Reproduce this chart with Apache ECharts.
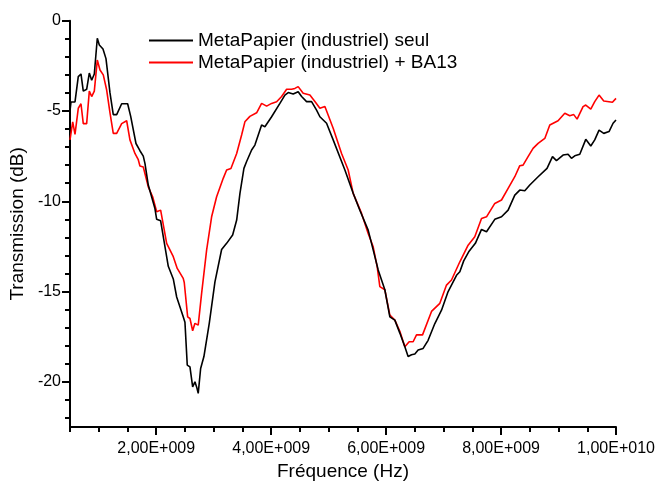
<!DOCTYPE html>
<html>
<head>
<meta charset="utf-8">
<script src="https://cdn.jsdelivr.net/npm/echarts@6/dist/echarts.min.js"></script>
<style>
html,body{margin:0;padding:0;background:#fff;}
#chart{width:657px;height:481px;}
</style>
</head>
<body>
<div id="chart"></div>
<script>
// Frequencies in GHz, transmission in dB
var seulFreqGHz = [0.5,0.517,0.587,0.644,0.691,0.731,0.79,0.836,0.877,0.923,0.975,1.01,1.074,1.126,1.196,1.253,1.312,1.399,1.503,1.556,1.648,1.717,1.775,1.804,1.862,1.978,2.008,2.077,2.21,2.297,2.356,2.47,2.5,2.54,2.587,2.634,2.674,2.703,2.731,2.773,2.83,2.923,3.022,3.138,3.225,3.33,3.4,3.457,3.526,3.573,3.66,3.717,3.834,3.891,4.008,4.152,4.239,4.297,4.383,4.47,4.53,4.616,4.703,4.79,4.848,4.964,5.079,5.283,5.427,5.543,5.688,5.717,5.834,5.862,5.978,6.065,6.152,6.239,6.326,6.383,6.442,6.5,6.557,6.644,6.731,6.848,6.964,7.079,7.225,7.283,7.35,7.437,7.553,7.66,7.747,7.891,8.008,8.123,8.239,8.326,8.413,8.5,8.645,8.8,8.895,8.964,9.079,9.166,9.225,9.283,9.37,9.474,9.561,9.63,9.705,9.787,9.879,9.949,10.0];
var seulDb = [-5.0,-4.5,-4.5,-3.1,-2.95,-3.9,-3.8,-2.9,-3.3,-2.95,-0.97,-1.35,-1.57,-2.1,-4.0,-5.2,-5.2,-4.6,-4.6,-5.3,-6.8,-7.2,-7.5,-7.9,-9.1,-10.4,-11.0,-11.08,-13.6,-14.3,-15.3,-16.4,-16.7,-19.07,-19.17,-20.28,-20.0,-20.28,-20.64,-19.26,-18.6,-16.76,-14.46,-12.67,-12.33,-11.87,-11.04,-9.56,-8.18,-7.8,-7.16,-6.89,-5.78,-5.87,-5.32,-4.58,-4.12,-3.98,-4.06,-3.93,-4.2,-4.48,-4.48,-4.95,-5.32,-5.68,-6.6,-8.27,-9.56,-10.5,-11.6,-11.96,-13.44,-13.8,-14.9,-16.4,-16.58,-17.3,-18.06,-18.6,-18.5,-18.46,-18.24,-18.15,-17.7,-16.77,-16.03,-15.0,-14.1,-13.9,-13.3,-12.8,-12.33,-11.56,-11.69,-11.0,-10.86,-10.49,-9.66,-9.38,-9.42,-9.1,-8.64,-8.18,-7.53,-7.75,-7.44,-7.4,-7.62,-7.48,-7.4,-6.57,-6.94,-6.6,-6.06,-6.24,-6.14,-5.68,-5.5];

var ba13FreqGHz = [0.5,0.547,0.587,0.644,0.691,0.731,0.79,0.836,0.877,0.923,0.975,1.022,1.079,1.138,1.196,1.253,1.312,1.399,1.486,1.543,1.63,1.688,1.717,1.775,1.862,1.938,2.008,2.077,2.182,2.297,2.366,2.47,2.488,2.547,2.587,2.634,2.674,2.731,2.79,2.877,2.964,3.051,3.166,3.225,3.3,3.4,3.486,3.543,3.63,3.747,3.834,3.921,4.008,4.095,4.182,4.269,4.356,4.413,4.47,4.557,4.674,4.761,4.848,4.935,5.079,5.225,5.34,5.427,5.573,5.688,5.775,5.845,5.891,5.978,6.065,6.152,6.239,6.326,6.401,6.47,6.529,6.634,6.79,6.935,7.051,7.138,7.283,7.427,7.543,7.66,7.747,7.891,8.008,8.123,8.239,8.326,8.383,8.47,8.557,8.645,8.761,8.848,8.992,9.109,9.196,9.265,9.323,9.427,9.474,9.561,9.63,9.705,9.787,9.938,10.0];
var ba13Db = [-6.6,-5.6,-6.3,-4.85,-4.6,-5.7,-5.7,-3.9,-4.2,-3.9,-2.18,-2.73,-3.0,-3.84,-5.1,-6.24,-6.24,-5.7,-5.54,-6.6,-7.35,-7.7,-8.05,-8.1,-9.2,-9.75,-10.58,-10.49,-12.33,-13.07,-13.72,-14.27,-14.5,-16.4,-16.49,-17.17,-16.76,-16.86,-15.1,-12.7,-10.86,-9.75,-8.73,-8.27,-8.18,-7.35,-6.33,-5.6,-5.3,-5.1,-4.58,-4.73,-4.58,-4.49,-4.2,-3.8,-3.8,-3.75,-3.65,-4.02,-4.12,-4.48,-4.85,-4.75,-5.96,-7.35,-8.27,-9.56,-10.67,-11.78,-12.52,-13.63,-14.73,-14.9,-16.3,-16.58,-17.2,-18.06,-17.78,-17.78,-17.4,-17.4,-16.1,-15.65,-14.64,-14.36,-13.35,-12.43,-11.96,-10.95,-10.86,-10.12,-9.93,-9.28,-8.64,-8.03,-8.0,-7.53,-7.07,-6.79,-6.52,-5.78,-5.54,-5.13,-5.26,-5.2,-5.45,-4.76,-4.67,-4.9,-4.48,-4.12,-4.45,-4.52,-4.3];

var seriesNames = ['MetaPapier (industriel) seul', 'MetaPapier (industriel) + BA13'];
var xMajorTicks = [2e9, 4e9, 6e9, 8e9, 1e10];
var xMinorTicks = [0.5e9,1e9,1.5e9,2.5e9,3e9,3.5e9,4.5e9,5e9,5.5e9,6.5e9,7e9,7.5e9,8.5e9,9e9,9.5e9];
var yMajorTicks = [-20, -15, -10, -5, 0];
var yMinorTicks = [-22,-21,-19,-18,-17,-16,-14,-13,-12,-11,-9,-8,-7,-6,-4,-3,-2,-1];

function pairs(f, v) {
  var out = [];
  for (var i = 0; i < f.length; i++) out.push([f[i] * 1e9, v[i]]);
  return out;
}
function sci(v) {
  var e = Math.floor(Math.log10(v) + 1e-9);
  var m = v / Math.pow(10, e);
  return m.toFixed(2).replace('.', ',') + 'E+' + String(e).padStart(3, '0');
}

var FONT = '"Liberation Sans", Arial, sans-serif';
var chart = echarts.init(document.getElementById('chart'), null, {renderer: 'canvas'});
var axisLineStyle = {color: '#000', width: 2};
var gridBox = {left: 70, right: 41, top: 20.7, bottom: 54, containLabel: false, outerBoundsMode: 'none'};

chart.setOption({
  animation: false,
  backgroundColor: '#fff',
  grid: [Object.assign({}, gridBox), Object.assign({}, gridBox)],
  legend: {
    orient: 'vertical',
    left: 149,
    top: 31,
    padding: 0,
    icon: 'rect',
    itemWidth: 44,
    itemHeight: 2,
    itemGap: 3,
    textStyle: {fontSize: 19, color: '#000', fontFamily: FONT},
    data: seriesNames
  },
  xAxis: [{
    type: 'value',
    gridIndex: 0,
    min: 0.5e9, max: 1e10,
    position: 'bottom',
    axisLine: {show: true, onZero: false, lineStyle: axisLineStyle},
    axisTick: {show: true, inside: false, length: 8, customValues: xMajorTicks, lineStyle: {color: '#000', width: 2}},
    axisLabel: {show: true, customValues: xMajorTicks, formatter: sci, fontSize: 16, color: '#000', fontFamily: FONT, margin: 14},
    splitLine: {show: false},
    name: 'Fréquence (Hz)',
    nameLocation: 'middle',
    nameGap: 35,
    nameTextStyle: {fontSize: 19, color: '#000', fontFamily: FONT}
  }, {
    type: 'value',
    gridIndex: 1,
    min: 0.5e9, max: 1e10,
    position: 'bottom',
    axisLine: {show: false, onZero: false},
    axisTick: {show: true, inside: false, length: 5, customValues: xMinorTicks, lineStyle: {color: '#000', width: 2}},
    axisLabel: {show: false},
    splitLine: {show: false}
  }],
  yAxis: [{
    type: 'value',
    gridIndex: 0,
    min: -22.5, max: 0,
    position: 'left',
    axisLine: {show: true, onZero: false, lineStyle: axisLineStyle},
    axisTick: {show: true, inside: false, length: 8, customValues: yMajorTicks, lineStyle: {color: '#000', width: 2}},
    axisLabel: {show: true, customValues: yMajorTicks, fontSize: 16, color: '#000', fontFamily: FONT, margin: 9},
    splitLine: {show: false},
    name: 'Transmission (dB)',
    nameLocation: 'middle',
    nameGap: 36,
    nameRotate: 90,
    nameTextStyle: {fontSize: 19, color: '#000', fontFamily: FONT}
  }, {
    type: 'value',
    gridIndex: 1,
    min: -22.5, max: 0,
    position: 'left',
    axisLine: {show: false, onZero: false},
    axisTick: {show: true, inside: false, length: 5, customValues: yMinorTicks, lineStyle: {color: '#000', width: 2}},
    axisLabel: {show: false},
    splitLine: {show: false}
  }],
  series: [{
    name: seriesNames[0],
    type: 'line',
    xAxisIndex: 0, yAxisIndex: 0,
    data: pairs(seulFreqGHz, seulDb),
    symbol: 'none',
    lineStyle: {color: '#000000', width: 1.6},
    itemStyle: {color: '#000000'},
    z: 3
  }, {
    name: seriesNames[1],
    type: 'line',
    xAxisIndex: 0, yAxisIndex: 0,
    data: pairs(ba13FreqGHz, ba13Db),
    symbol: 'none',
    lineStyle: {color: '#ff0000', width: 1.6},
    itemStyle: {color: '#ff0000'},
    z: 2
  }]
});
</script>
</body>
</html>
